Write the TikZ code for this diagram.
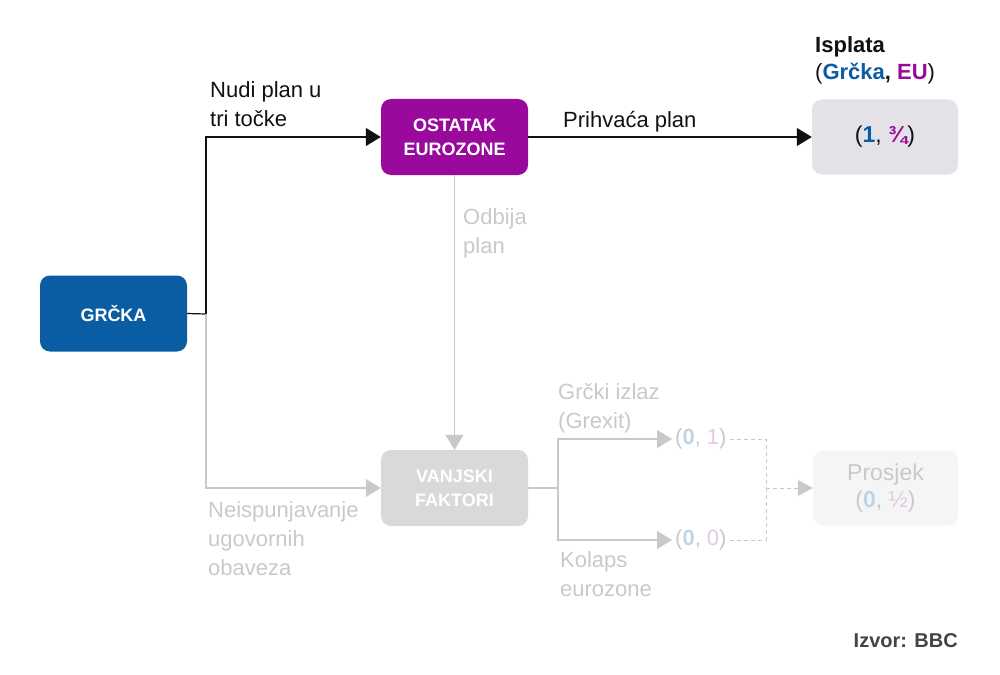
\documentclass[tikz,border=0pt]{standalone}
\usepackage{fontspec}
\setmainfont{Liberation Sans}
\usetikzlibrary{arrows.meta,positioning}

% Colours of the two players and the faded branch
\definecolor{grblue}{HTML}{0B5DA3}
\definecolor{eupurple}{HTML}{990A9C}
\definecolor{inkblack}{HTML}{111111}
\definecolor{fadegrey}{HTML}{C9C9C9}
\definecolor{fadebox}{HTML}{D9D9D9}
\definecolor{payoffbg}{HTML}{E5E2E7}
\definecolor{fadebg}{HTML}{F5F5F5}
\definecolor{fadeblue}{HTML}{BCD6E8}
\definecolor{fadepink}{HTML}{E6C6E6}
\definecolor{srcgrey}{HTML}{444444}

\tikzset{
    player/.style={rounded corners=10pt, minimum width=147pt, minimum height=76pt,
        inner sep=0pt, align=center, text=white,
        font=\fontsize{18}{24}\selectfont\bfseries},
    payoff/.style={rounded corners=10pt, minimum width=146pt, minimum height=75pt,
        inner sep=0pt, align=center, font=\fontsize{22}{30}\selectfont},
    outcome/.style={inner sep=3pt, anchor=west, text=fadegrey,
        font=\fontsize{22}{28}\selectfont},
    movelabel/.style={anchor=base west, inner sep=0pt, align=left,
        font=\fontsize{22}{29}\selectfont},
    move/.style={-{Triangle[length=15pt,width=18pt]}, line width=1.2pt},
    fademove/.style={move, fadegrey},
    avgline/.style={fadegrey, line width=1pt, dash pattern=on 4pt off 3pt}
}

\begin{document}
\begin{tikzpicture}[x=1pt,y=-1pt]
    \useasboundingbox (0,0) rectangle (1000,674);

    % Players
    \node[player, fill=grblue] (grcka) at (113.5,313.5) {GRČKA};
    \node[player, fill=eupurple] (ostatak) at (454.5,137) {OSTATAK\\EUROZONE};
    \node[player, fill=fadebox] (vanjski) at (454.5,488) {VANJSKI\\FAKTORI};

    % Payoffs (multi-line labels sit on their last baseline)
    \node[movelabel, font=\fontsize{22}{27}\selectfont, text=inkblack] (isplata) at (815,80)
        {\textbf{Isplata}\\(\textcolor{grblue}{\bfseries Grčka}\textbf{,} \textcolor{eupurple}{\bfseries EU})};
    \node[payoff, fill=payoffbg, text=inkblack, font=\fontsize{23}{30}\selectfont] (dogovor) at (885,137)
        {(\textcolor{grblue}{\bfseries 1}, \textcolor{eupurple}{\bfseries ¾})};
    \node[outcome] (grexit) at (672,439)
        {(\textcolor{fadeblue}{\bfseries 0}, \textcolor{fadepink}{1})};
    \node[outcome] (kolaps) at (672,540)
        {(\textcolor{fadeblue}{\bfseries 0}, \textcolor{fadepink}{0})};
    \node[payoff, fill=fadebg, text=fadegrey, minimum width=145pt,
        font=\fontsize{23}{30}\selectfont] (prosjek) at (885.5,488)
        {Prosjek\\[-3pt](\textcolor{fadeblue}{\bfseries 0}, \textcolor{fadepink}{½})};

    % Branch points
    \coordinate (split) at (206,314);
    \coordinate (fork) at (558,488);
    \coordinate (join) at (766,488);

    % Played moves
    \draw[inkblack, line width=1.2pt] (grcka.east) -- (split);
    \draw[move, inkblack] (split) |- (ostatak.west);
    \draw[move, inkblack] (ostatak.east) -- (dogovor.west);

    % Faded moves
    \draw[fademove] (split) |- (vanjski.west);
    \draw[fademove] (ostatak.south) -- (vanjski.north);
    \draw[fadegrey, line width=1.2pt] (vanjski.east) -- (fork);
    \draw[fademove] (fork) |- (grexit.west);
    \draw[fademove] (fork) |- (kolaps.west);

    % Average of the two outcomes
    \draw[avgline] (grexit.east) -| (join);
    \draw[avgline] (kolaps.east) -| (join);
    \draw[avgline, -{Triangle[length=15pt,width=16pt]}] (join) -- (prosjek.west);

    % Move labels
    \node[movelabel, text=inkblack] (nudi) at (210,127) {Nudi plan u\\tri točke};
    \node[movelabel, text=inkblack] (prihvaca) at (563,128) {Prihvaća plan};
    \node[movelabel, text=fadegrey] (odbija) at (463,253) {Odbija\\plan};
    \node[movelabel, text=fadegrey] (neisp) at (208,575) {Neispunjavanje\\ugovornih\\obaveza};
    \node[movelabel, text=fadegrey] (izlaz) at (558,428) {Grčki izlaz\\(Grexit)};
    \node[movelabel, text=fadegrey] (kolapslbl) at (560,596) {Kolaps\\eurozone};

    % Source
    \node[anchor=base east, inner sep=0pt, text=srcgrey,
        font=\fontsize{20}{24}\selectfont\bfseries] (izvor) at (958,647) {Izvor: BBC};
\end{tikzpicture}
\end{document}
